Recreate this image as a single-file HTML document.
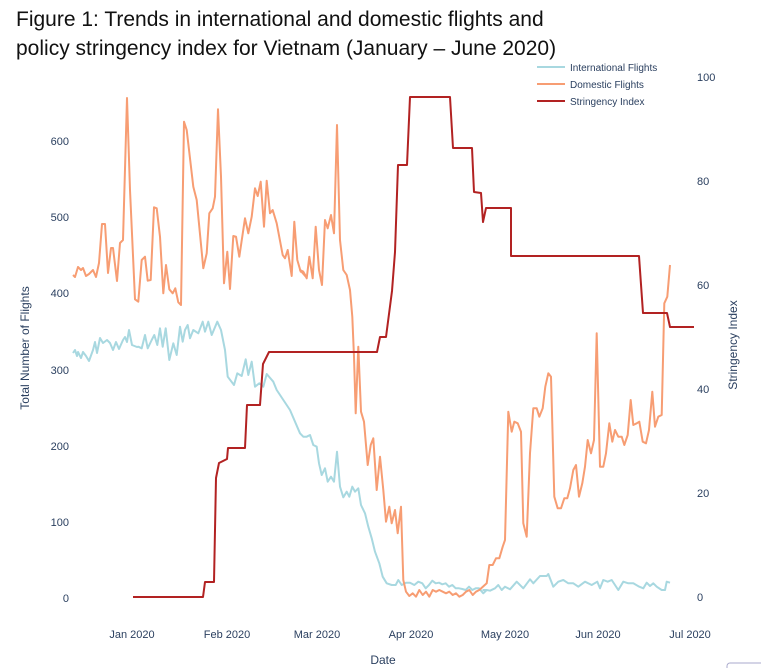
<!DOCTYPE html>
<html><head><meta charset="utf-8"><style>
html,body{margin:0;padding:0;background:#fff;}
body{width:761px;height:668px;overflow:hidden;position:relative;font-family:"Liberation Sans",sans-serif;}
.t{position:absolute;left:16px;top:5px;font-size:21px;line-height:29px;color:#111;}
svg{position:absolute;left:0;top:0;}
</style></head><body>
<div class="t">Figure 1: Trends in international and domestic flights and<br>policy stringency index for Vietnam (January – June 2020)</div>
<svg id="s" width="761" height="668" font-family="Liberation Sans, sans-serif" font-size="11" fill="#2a3f5f">
<g text-anchor="end">
<text x="69" y="602">0</text><text x="69" y="526">100</text><text x="69" y="450">200</text><text x="69" y="374">300</text><text x="69" y="297">400</text><text x="69" y="221">500</text><text x="69" y="145">600</text>
</g>
<g>
<text x="697" y="601">0</text><text x="697" y="497">20</text><text x="697" y="393">40</text><text x="697" y="289">60</text><text x="697" y="185">80</text><text x="697" y="81">100</text>
</g>
<g text-anchor="middle">
<text x="132" y="638">Jan 2020</text><text x="227" y="638">Feb 2020</text><text x="317" y="638">Mar 2020</text><text x="411" y="638">Apr 2020</text><text x="505" y="638">May 2020</text><text x="598" y="638">Jun 2020</text><text x="690" y="638">Jul 2020</text>
<text x="383" y="664" font-size="12">Date</text>
<text transform="translate(29,348) rotate(-90)" font-size="12">Total Number of Flights</text>
<text transform="translate(737,345) rotate(-90)" font-size="12">Stringency Index</text>
</g>
<line x1="537" y1="67" x2="565" y2="67" stroke="#a8d8e0" stroke-width="2"/>
<line x1="537" y1="84" x2="565" y2="84" stroke="#f79d73" stroke-width="2"/>
<line x1="537" y1="101" x2="565" y2="101" stroke="#b22222" stroke-width="2"/>
<text x="570" y="71" font-size="10">International Flights</text>
<text x="570" y="88" font-size="10">Domestic Flights</text>
<text x="570" y="105" font-size="10">Stringency Index</text>
<rect x="727" y="663" width="40" height="10" rx="3" fill="none" stroke="#aac"/>
</svg>
<script>
function P(off,arr){var r=[];for(var i=0;i<arr.length;i+=2)r.push((off[0]+arr[i]/3).toFixed(1)+","+(off[1]+arr[i+1]/3).toFixed(1));return r;}
var z1=[110,90],z2=[300,90],z3=[480,250];
var dom=["73,275","75,277","78,267","81,270","83,268","86,276","89,274","93,270","96,277","99,263","102,224","105,224","108,273","111,248","113,248","117,281","120,243","123,240","127,98"].concat(P(z1,[60,300,75,628,85,635,95,510,105,500,113,572,122,570,132,352,140,355,150,440,160,610,168,525,178,598,188,610,196,595,205,637,213,645,222,95,230,120,250,290,260,330,280,535,290,490,298,370,308,355,315,320,324,58,333,260,342,580,352,485,360,597,370,438,378,440,388,500,405,385,415,430,425,380,435,295,443,318,452,275,462,410,470,272,480,370,488,360,500,400,518,495,525,505,533,480,545,558,553,395,562,510,572,545,580,545,590,563]))
.concat(P(z2,[0,540,10,545,20,565,28,500,38,565,47,410,57,540,66,585,75,390,83,415,93,375,102,430,111,105,120,450,130,540,140,555,150,600,157,680,162,800,167,970,175,770,183,965,192,995,203,1125,212,1065,220,1045,230,1200,240,1100,250,1200,258,1295,268,1250,275,1300,285,1260,293,1330,303,1250,310,1470,318,1505,328,1518,338,1510,348,1520,358,1500,368,1515,378,1505,388,1520,398,1500,408,1505,418,1500,428,1505,438,1510,448,1505,458,1515,468,1510,478,1520,488,1515,498,1505,508,1500,518,1515,528,1505,538,1500]))
.concat(P(z3,[20,1000,28,945,38,945,48,925,58,925,68,890,75,870,85,485,95,545,103,515,113,520,123,545,130,820,140,860,150,610,160,475,170,475,178,500,188,475,196,410,205,370,213,380,223,740,233,775,243,775,253,745,262,745,270,715,280,660,288,645,297,740,307,700,315,650,323,570,333,610,342,570,350,250,360,650,370,650,378,610,388,520,397,575,405,540,415,560,425,560,433,585,443,555,452,450,460,525,470,520,478,515,488,575,498,580,507,540,517,425,525,530,535,500,545,495,553,160,562,140,570,45]));
var intl=["73,353","75,350","77,356","78,352","81,358","83,352","86,356","89,361","93,350","95,342","97,353","100,338","103,343","107,340","110,343","113,350","116,342","119,349","123,340","125,337","127,342","129,330","132,345","137,347"].concat(P(z1,[85,770,95,775,105,735,113,775,125,750,133,735,142,765,150,715,158,770,167,715,178,810,190,760,200,795,210,710,218,755,225,720,233,705,240,745,250,720,265,730,278,695,285,725,295,695,305,735,322,695,333,720,345,780,353,860,372,885,382,850,395,858,407,808,415,855,425,815,435,890,448,880,460,890,470,852,490,875,500,900,540,960]))
.concat(P(z2,[0,1030,10,1040,20,1040,30,1035,40,1065,50,1070,57,1120,65,1155,75,1135,83,1175,93,1160,102,1175,111,1085,120,1190,130,1222,140,1205,148,1220,157,1190,165,1205,175,1195,183,1245,195,1270,205,1310,215,1345,225,1385,238,1420,248,1460,260,1480,275,1485,287,1485,295,1470,305,1485,318,1478,330,1478,343,1485,355,1475,367,1480,377,1495,387,1485,397,1472,407,1480,417,1478,427,1483,437,1480,447,1490,457,1485,467,1495,477,1495,487,1497,497,1500,507,1490,517,1500,527,1495,537,1495,550,1510,560,1500]))
.concat(P(z3,[10,1020,20,1020,30,1022,45,1015,55,1005,65,1020,75,1010,90,1018,110,995,130,1015,150,988,160,1000,180,978,200,978,205,972,220,1010,235,995,250,990,265,1000,280,1000,295,1010,315,995,335,1005,352,995,360,1015,370,990,383,995,395,990,405,1005,415,1020,430,995,445,1000,460,1000,478,1010,490,1015,500,998,510,1008,520,1000,530,1010,545,1020,555,1020,560,995,570,998]));
var str="133,597 203,597 205,582 214,582 216,478 219,463 227,459 228,448 245,448 247,405 260,405 263,364 269,352 377,352 380,337 386,337 392,291 395,252 398,165 407,165 410,97 450,97 453,148 472,148 474,192 481,193 483,222 486,208 511,208 511,256 639,256 643,313 667,313 670,327 694,327";
var s=document.getElementById("s"),ns="http://www.w3.org/2000/svg";
function pl(pts,c){var e=document.createElementNS(ns,"polyline");e.setAttribute("points",pts);e.setAttribute("fill","none");e.setAttribute("stroke",c);e.setAttribute("stroke-width","2");e.setAttribute("stroke-linejoin","round");s.appendChild(e);}
pl(intl.join(" "),"#a8d8e0");pl(dom.join(" "),"#f79d73");pl(str,"#b22222");
</script>
</body></html>
